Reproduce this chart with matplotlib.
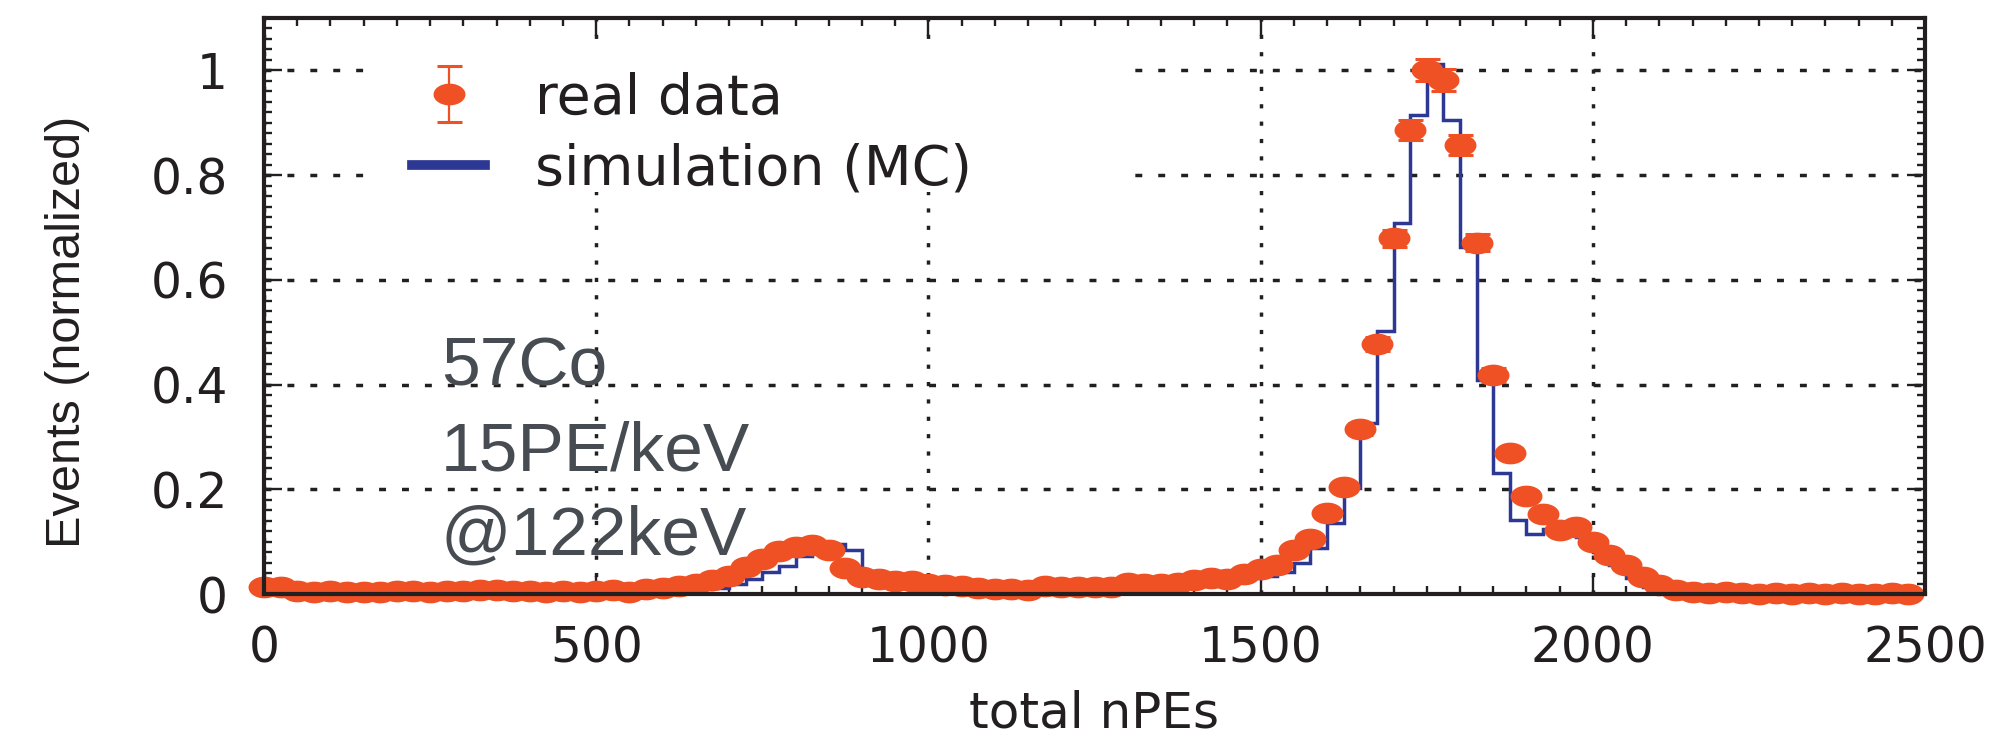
import numpy as np
import matplotlib.pyplot as plt
from matplotlib.path import Path
from matplotlib.lines import Line2D
from matplotlib.patches import Rectangle
from matplotlib.ticker import MultipleLocator

# 25 PE bins, points sit on the left bin edge
npe = np.arange(0, 2500, 25)
edges = np.arange(0, 2525, 25)

# real data (normalized to peak)
data = [0.013, 0.013, 0.006, 0.004, 0.005, 0.003, 0.004, 0.003, 0.005, 0.006,
        0.004, 0.006, 0.005, 0.007, 0.008, 0.006, 0.005, 0.004, 0.005, 0.003,
        0.006, 0.008, 0.004, 0.009, 0.012, 0.016, 0.019, 0.026, 0.035, 0.051,
        0.066, 0.082, 0.090, 0.093, 0.085, 0.050, 0.032, 0.028, 0.025, 0.025,
        0.019, 0.018, 0.015, 0.012, 0.010, 0.010, 0.007, 0.015, 0.013, 0.013,
        0.013, 0.013, 0.021, 0.019, 0.019, 0.022, 0.026, 0.031, 0.029, 0.038,
        0.048, 0.055, 0.085, 0.105, 0.155, 0.204, 0.315, 0.477, 0.679, 0.886,
        1.000, 0.981, 0.858, 0.671, 0.418, 0.269, 0.188, 0.152, 0.123, 0.128,
        0.100, 0.075, 0.056, 0.032, 0.017, 0.008, 0.004, 0.002, 0.003, 0.002,
        0.001, 0.002, 0.001, 0.002, 0.001, 0.002, 0.001, 0.001, 0.002, 0.001]

data_err = [0.004] * 60 + \
    [0.005, 0.005, 0.006, 0.007, 0.008, 0.009, 0.011, 0.013, 0.016, 0.019,
     0.021, 0.021, 0.019, 0.016, 0.013, 0.010, 0.009, 0.008, 0.007, 0.007,
     0.006, 0.005, 0.005, 0.004, 0.003, 0.003, 0.003, 0.003, 0.003, 0.003] + \
    [0.003] * 10

# simulation (MC), one value per bin
mc = [0.004, 0.004, 0.003, 0.003, 0.002, 0.003, 0.002, 0.003, 0.003, 0.002,
      0.003, 0.003, 0.002, 0.003, 0.003, 0.002, 0.003, 0.002, 0.003, 0.003,
      0.003, 0.004, 0.004, 0.005, 0.007, 0.008, 0.010, 0.012, 0.019, 0.029,
      0.042, 0.054, 0.072, 0.082, 0.095, 0.084, 0.022, 0.016, 0.013, 0.012,
      0.010, 0.009, 0.008, 0.008, 0.007, 0.007, 0.007, 0.008, 0.008, 0.009,
      0.009, 0.010, 0.011, 0.012, 0.014, 0.016, 0.019, 0.022, 0.026, 0.031,
      0.035, 0.042, 0.059, 0.088, 0.135, 0.203, 0.327, 0.503, 0.708, 0.914,
      1.013, 0.906, 0.663, 0.408, 0.231, 0.142, 0.114, 0.125, 0.126, 0.108,
      0.081, 0.055, 0.030, 0.014, 0.006, 0.003, 0.002, 0.002, 0.001, 0.001,
      0.001, 0.001, 0.001, 0.001, 0.001, 0.001, 0.001, 0.001, 0.001, 0.001]

note_lines = ['57Co', '15PE/keV', '@122keV']

orange = '#ef5124'
navy = '#2c3893'
ink = '#231f20'

plt.rcParams['font.family'] = 'DejaVu Sans'

# squashed circle marker like the original
t = np.linspace(0, 2 * np.pi, 64)
ellipse = Path(np.column_stack([np.cos(t), 0.68 * np.sin(t)]), closed=True)

fig = plt.figure(figsize=(20.03, 7.35), dpi=100)
ax = fig.add_axes([0.1318, 0.1918, 0.8293, 0.7837])

ax.stairs(mc, edges, color=navy, lw=2.5, zorder=2)
eb = ax.errorbar(npe, data, yerr=data_err, ls='none', marker=ellipse, ms=23,
                 mfc=orange, mec='none', ecolor=orange, elinewidth=1.6,
                 capsize=9, capthick=2.2, clip_on=False, zorder=3)

ax.set_xlim(0, 2500)
ax.set_ylim(0, 1.1)
ax.set_xticks([0, 500, 1000, 1500, 2000, 2500])
ax.set_yticks([0, 0.2, 0.4, 0.6, 0.8, 1.0], labels=['0', '0.2', '0.4', '0.6', '0.8', '1'])
ax.xaxis.set_minor_locator(MultipleLocator(50))
ax.yaxis.set_minor_locator(MultipleLocator(0.02))

ax.set_axisbelow(True)
ax.xaxis.grid(True, which='major', color=ink, lw=2.5, linestyle=(0, (1.2, 3.8)))
ax.yaxis.grid(True, which='major', color=ink, lw=2.5, linestyle=(0, (2.0, 4.6)))

ax.tick_params(which='both', direction='in', top=True, right=True,
               color=ink, width=1.7, labelcolor=ink, labelsize=35)
ax.tick_params(which='major', length=13)
ax.tick_params(which='minor', length=5.5)
ax.tick_params(axis='x', pad=22)
ax.tick_params(axis='y', pad=26)
for s in ax.spines.values():
    s.set_linewidth(3)
    s.set_color(ink)
    s.set_zorder(5)

ax.set_xlabel('total nPEs', fontsize=36, color=ink)
ax.xaxis.set_label_coords(0.5, -0.165)
ax.set_ylabel('Events (normalized)', fontsize=35, color=ink, family='Liberation Sans')
ax.yaxis.set_label_coords(-0.105, 0.455)

for txt, yb in zip(note_lines, [0.398, 0.235, 0.076]):
    ax.text(266, yb, txt, fontsize=50, color='#464c52', family='Liberation Sans',
            va='baseline', ha='left', zorder=4)

# white box behind the legend, wider than the text like in the original
ax.add_patch(Rectangle((0.064, 0.698), 0.454, 0.245, transform=ax.transAxes,
                       facecolor='white', edgecolor='none', zorder=1))

mc_handle = Line2D([], [], color=navy, lw=7)
leg = ax.legend([eb, mc_handle], ['real data', 'simulation (MC)'],
                loc='upper left', bbox_to_anchor=(0.076, 0.946), borderaxespad=0,
                frameon=False, fontsize=40, handlelength=1.3, handletextpad=0.9,
                labelspacing=0.3, borderpad=0.4)
for text in leg.get_texts():
    text.set_color(ink)
leg.set_zorder(6)

fig.savefig('out.png', dpi=100)
